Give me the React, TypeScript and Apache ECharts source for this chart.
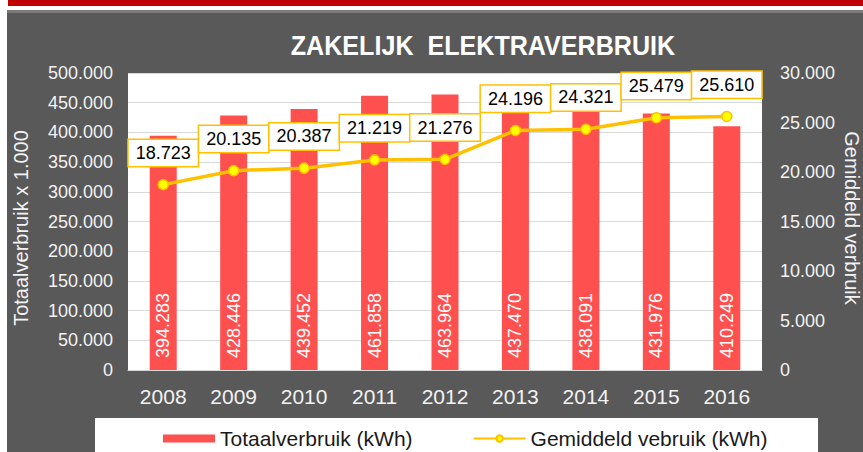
import React, { useEffect, useRef } from "react";
import * as echarts from "echarts";

const years = ["2008", "2009", "2010", "2011", "2012", "2013", "2014", "2015", "2016"];
const totaalverbruik = [394283, 428446, 439452, 461858, 463964, 437470, 438091, 431976, 410249];
const gemiddeldVerbruik = [18723, 20135, 20387, 21219, 21276, 24196, 24321, 25479, 25610];

const FONT = "'Liberation Sans', Arial, sans-serif";

function fmt(v: number): string {
  return Math.round(v)
    .toString()
    .replace(/\B(?=(\d{3})+(?!\d))/g, ".");
}

export default function App() {
  const ref = useRef<HTMLDivElement>(null);

  useEffect(() => {
    if (!ref.current) return;
    const chart = echarts.init(ref.current, null, { renderer: "svg" });
    chart.setOption({
      animation: false,
      backgroundColor: "#595959",
      graphic: [
        { type: "rect", shape: { x: 0, y: 0, width: 863, height: 10 }, style: { fill: "#ffffff" }, z: 0 },
        { type: "rect", shape: { x: 0, y: 0, width: 7, height: 452 }, style: { fill: "#ffffff" }, z: 0 },
        { type: "rect", shape: { x: 8, y: 0, width: 855, height: 6 }, style: { fill: "#c00000" }, z: 1 },
        { type: "rect", shape: { x: 7, y: 10, width: 856, height: 3 }, style: { fill: "#7a7a7a" }, z: 1 },
        { type: "rect", shape: { x: 95, y: 418, width: 723, height: 40 }, style: { fill: "#ffffff" }, z: 0 },
        {
          type: "text",
          x: 483,
          y: 46,
          scaleX: 0.93,
          style: {
            text: "ZAKELIJK  ELEKTRAVERBRUIK",
            fill: "#ffffff",
            fontSize: 27,
            fontWeight: "bold",
            fontFamily: FONT,
            align: "center",
            verticalAlign: "middle",
          },
        },
        {
          type: "text",
          x: 21,
          y: 228,
          rotation: Math.PI / 2,
          style: {
            text: "Totaalverbruik x 1.000",
            fill: "#f2f2f2",
            fontSize: 20,
            fontFamily: FONT,
            align: "center",
            verticalAlign: "middle",
          },
        },
        {
          type: "text",
          x: 852,
          y: 218,
          rotation: -Math.PI / 2,
          style: {
            text: "Gemiddeld verbruik",
            fill: "#f2f2f2",
            fontSize: 20,
            fontFamily: FONT,
            align: "center",
            verticalAlign: "middle",
          },
        },
      ],
      legend: {
        left: 158,
        top: 423,
        itemGap: 60,
        itemWidth: 52,
        itemHeight: 8,
        textStyle: { color: "#1a1a1a", fontSize: 21, fontFamily: FONT },
        data: [
          { name: "Totaalverbruik (kWh)", icon: "rect" },
          { name: "Gemiddeld vebruik (kWh)" },
        ],
      },
      grid: {
        left: 128,
        right: 101,
        top: 73,
        bottom: 82,
        show: true,
        backgroundColor: "#ffffff",
        borderWidth: 0,
      },
      xAxis: {
        type: "category",
        data: years,
        axisLine: { show: true, lineStyle: { color: "#d9d9d9", width: 1 } },
        axisTick: { show: false },
        axisLabel: { color: "#f2f2f2", fontSize: 21, fontFamily: FONT, margin: 16 },
      },
      yAxis: [
        {
          type: "value",
          min: 0,
          max: 500000,
          interval: 50000,
          axisLine: { show: false },
          axisTick: { show: false },
          splitLine: { show: true, lineStyle: { color: "#d9d9d9", width: 1 } },
          axisLabel: { color: "#f2f2f2", fontSize: 18, fontFamily: FONT, margin: 15, formatter: (v: number) => fmt(v) },
        },
        {
          type: "value",
          min: 0,
          max: 30000,
          interval: 5000,
          axisLine: { show: false },
          axisTick: { show: false },
          splitLine: { show: false },
          axisLabel: { color: "#f2f2f2", fontSize: 18, fontFamily: FONT, margin: 18, formatter: (v: number) => fmt(v) },
        },
      ],
      series: [
        {
          name: "Totaalverbruik (kWh)",
          type: "bar",
          data: totaalverbruik,
          barWidth: 27,
          itemStyle: { color: "#ff5050" },
          label: {
            show: true,
            position: "insideBottom",
            rotate: 90,
            align: "left",
            verticalAlign: "middle",
            distance: 12,
            color: "#ffffff",
            fontSize: 18,
            fontFamily: FONT,
            formatter: (p: any) => fmt(p.value),
          },
        },
        {
          name: "Gemiddeld vebruik (kWh)",
          type: "line",
          yAxisIndex: 1,
          data: gemiddeldVerbruik,
          symbol: "circle",
          symbolSize: 10,
          lineStyle: { color: "#ffc000", width: 3.5 },
          itemStyle: { color: "#ffff00", borderColor: "#ffc000", borderWidth: 1.5 },
          label: {
            show: true,
            position: "top",
            distance: 13,
            backgroundColor: "#ffffff",
            borderColor: "#ffc000",
            borderWidth: 1.5,
            padding: [4, 7],
            color: "#000000",
            fontSize: 18,
            fontFamily: FONT,
            formatter: (p: any) => fmt(p.value),
          },
          z: 3,
        },
      ],
    });
    return () => chart.dispose();
  }, []);

  return (
    <div
      ref={ref}
      style={{ position: "absolute", left: 0, top: 0, width: 863, height: 452, background: "#ffffff" }}
    />
  );
}
